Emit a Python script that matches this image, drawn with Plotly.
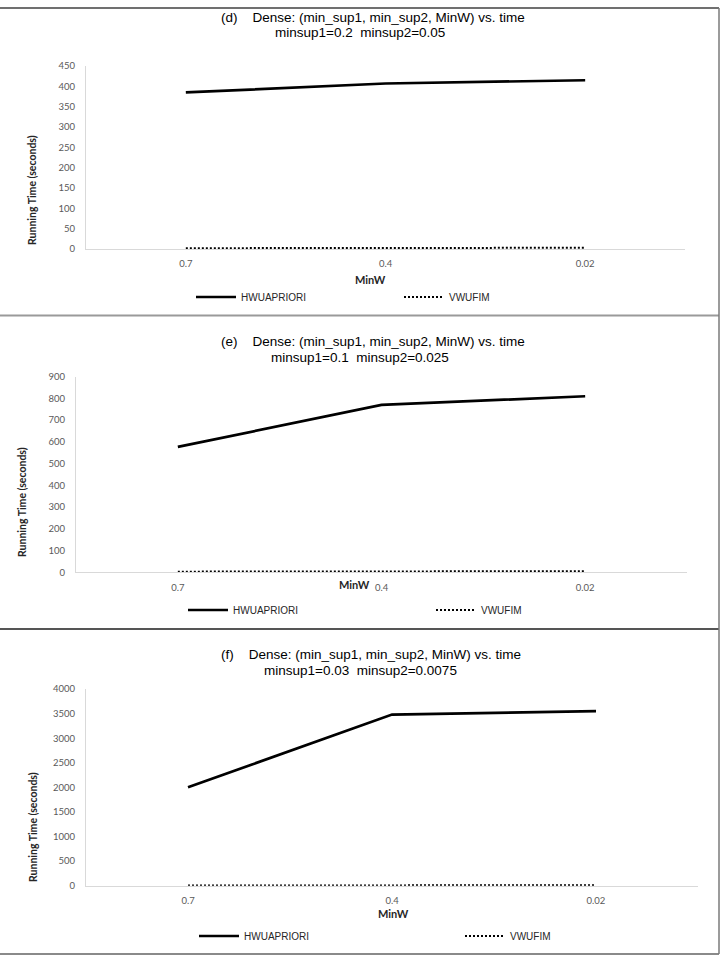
import plotly.graph_objects as go

W, H = 722, 956

# ---------------- data ----------------
minw_labels = ["0.7", "0.4", "0.02"]
hwuapriori_d = [385, 407, 415]
vwufim_d = [2, 3, 3]
hwuapriori_e = [577, 770, 810]
vwufim_e = [3, 4, 5]
hwuapriori_f = [2000, 3480, 3550]
vwufim_f = [5, 6, 8]

titles_line1 = ["(d)    Dense: (min_sup1, min_sup2, MinW) vs. time",
                "(e)    Dense: (min_sup1, min_sup2, MinW) vs. time",
                "(f)    Dense: (min_sup1, min_sup2, MinW) vs. time"]
titles_line2 = ["minsup1=0.2  minsup2=0.05",
                "minsup1=0.1  minsup2=0.025",
                "minsup1=0.03  minsup2=0.0075"]
series_names = ["HWUAPRIORI", "VWUFIM"]
y_title = "Running Time (seconds)"
x_title = "MinW"

# ---------------- layout geometry (pixels) ----------------
def px(x):
    return x / W

def py(y):
    return 1 - y / H

panels = [
    dict(hw=hwuapriori_d, vw=vwufim_d, x0=86, x1=685, ytop=66, ybot=249, ymax=450, dtick=50,
         t1=(219, 17), t2=(273, 33), ytit=(32, 190), xtit=(370, 279), leg=(191, 297), entry=153),
    dict(hw=hwuapriori_e, vw=vwufim_e, x0=76, x1=687, ytop=376.7, ybot=572.3, ymax=900, dtick=100,
         t1=(219, 341), t2=(269, 357), ytit=(22, 502), xtit=(354, 584), leg=(183, 610), entry=193),
    dict(hw=hwuapriori_f, vw=vwufim_f, x0=86, x1=698, ytop=689, ybot=885.7, ymax=4000, dtick=500,
         t1=(219, 654), t2=(262, 670), ytit=(33, 827), xtit=(393, 913), leg=(194, 936), entry=211),
]

fig = go.Figure()
annotations = []
layout_extra = {}

for i, p in enumerate(panels):
    sfx = "" if i == 0 else str(i + 1)
    leg = "legend" + sfx
    xa, ya = "x" + sfx, "y" + sfx
    fig.add_trace(go.Scatter(
        x=minw_labels, y=p["hw"], mode="lines", name=series_names[0],
        line=dict(color="black", width=2.7), xaxis=xa, yaxis=ya, legend=leg,
        hoverinfo="skip"))
    fig.add_trace(go.Scatter(
        x=minw_labels, y=p["vw"], mode="lines", name=series_names[1],
        line=dict(color="black", width=2, dash="2px,2px"), xaxis=xa, yaxis=ya, legend=leg,
        hoverinfo="skip"))

    layout_extra["xaxis" + sfx] = dict(
        domain=[px(p["x0"]), px(p["x1"])], anchor=ya, type="category",
        categoryorder="array", categoryarray=minw_labels, range=[-0.5, 2.5],
        showgrid=False, zeroline=False, showline=True, linecolor="#d9d9d9", linewidth=1,
        ticks="", tickfont=dict(family="Lato", size=9.5, color="#595959"),
        ticklabelstandoff=6, fixedrange=True)
    layout_extra["yaxis" + sfx] = dict(
        domain=[py(p["ybot"]), py(p["ytop"])], anchor=xa, range=[0, p["ymax"]],
        dtick=p["dtick"], tick0=0, showgrid=False, zeroline=False, showline=True,
        linecolor="#d9d9d9", linewidth=1, ticks="",
        tickfont=dict(family="Lato", size=9.5, color="#595959"),
        ticklabelstandoff=8, fixedrange=True)
    layout_extra[leg] = dict(
        orientation="h", x=px(p["leg"][0]), y=py(p["leg"][1]), xanchor="left", yanchor="middle",
        entrywidth=p["entry"], entrywidthmode="pixels", itemwidth=40,
        font=dict(family="Liberation Sans", size=10, color="#262626"),
        bgcolor="rgba(0,0,0,0)", borderwidth=0, itemclick=False, itemdoubleclick=False)

    annotations.append(dict(
        text=titles_line1[i], x=px(p["t1"][0]), y=py(p["t1"][1]), xref="paper", yref="paper",
        xanchor="left", yanchor="middle", showarrow=False,
        font=dict(family="Liberation Sans", size=13.5, color="black")))
    annotations.append(dict(
        text=titles_line2[i], x=px(p["t2"][0]), y=py(p["t2"][1]), xref="paper", yref="paper",
        xanchor="left", yanchor="middle", showarrow=False,
        font=dict(family="Liberation Sans", size=13.5, color="black")))
    annotations.append(dict(
        text="<b>" + y_title + "</b>", x=px(p["ytit"][0]), y=py(p["ytit"][1]),
        xref="paper", yref="paper", xanchor="center", yanchor="middle", textangle=-90,
        showarrow=False, font=dict(family="Lato", size=10.5, color="#262626")))
    annotations.append(dict(
        text="<b>" + x_title + "</b>", x=px(p["xtit"][0]), y=py(p["xtit"][1]),
        xref="paper", yref="paper", xanchor="center", yanchor="middle",
        showarrow=False, font=dict(family="Lato", size=11, color="#262626")))

# panel frames
shapes = []
def hline(y, x0, x1, color, w):
    shapes.append(dict(type="line", xref="paper", yref="paper", x0=px(x0), x1=px(x1),
                       y0=py(y), y1=py(y), line=dict(color=color, width=w)))

hline(8, 0, 719, "#404040", 1.5)
hline(315.5, 0, 719, "#9a9a9a", 2)
hline(629, 0, 719, "#555555", 2)
hline(954, 0, 719, "#8a8a8a", 2)
shapes.append(dict(type="line", xref="paper", yref="paper", x0=px(719), x1=px(719),
                   y0=py(8), y1=py(954), line=dict(color="#7a7a7a", width=1.5)))

fig.update_layout(
    width=W, height=H, margin=dict(l=0, r=0, t=0, b=0, pad=0, autoexpand=False),
    paper_bgcolor="white", plot_bgcolor="white",
    showlegend=True, annotations=annotations, shapes=shapes,
    **layout_extra)

fig.write_html("out.html", config={"displayModeBar": False})
